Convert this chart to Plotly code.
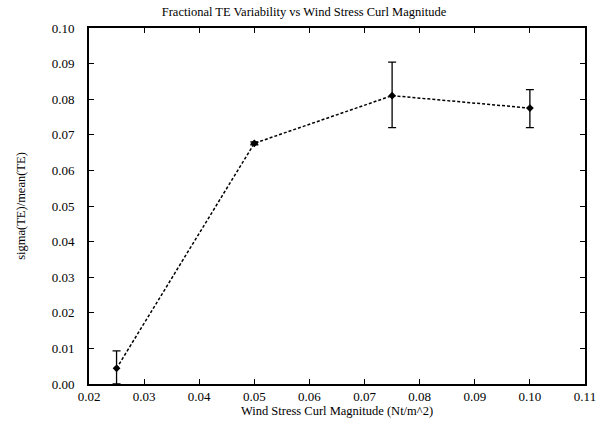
import plotly.graph_objects as go

x_vals = [0.025, 0.05, 0.075, 0.10]
y_vals = [0.0044, 0.0676, 0.0810, 0.0775]
err_plus = [0.0049, 0.0004, 0.0094, 0.0052]
err_minus = [0.0044, 0.0004, 0.0090, 0.0055]

x_ticks = [0.02, 0.03, 0.04, 0.05, 0.06, 0.07, 0.08, 0.09, 0.10, 0.11]
y_ticks = [0.00, 0.01, 0.02, 0.03, 0.04, 0.05, 0.06, 0.07, 0.08, 0.09, 0.10]

font = "Liberation Serif"

fig = go.Figure()
fig.add_trace(go.Scatter(
    x=x_vals, y=y_vals, mode="lines+markers",
    line=dict(color="black", width=1.5, dash="3px,2px"),
    marker=dict(symbol="diamond", size=6, color="black"),
    error_y=dict(type="data", symmetric=False, array=err_plus, arrayminus=err_minus,
                 color="black", thickness=1.3, width=4),
    showlegend=False,
))

axis_common = dict(
    showgrid=False, zeroline=False, showline=True, linecolor="black", linewidth=1.6,
    mirror="ticks", ticks="inside", ticklen=5, tickcolor="black", tickwidth=1.2,
    tickfont=dict(family=font, size=13, color="black"),
)

fig.update_layout(
    width=608, height=425,
    margin=dict(l=89, r=14, t=28, b=33),
    paper_bgcolor="white", plot_bgcolor="white",
    font=dict(family=font, color="black"),
    title=dict(text="Fractional TE Variability vs Wind Stress Curl Magnitude",
               x=0.5, xanchor="center", y=0.972, yanchor="middle",
               font=dict(family=font, size=12.5, color="black")),
    xaxis=dict(range=[0.02, 0.11], tickvals=x_ticks,
               ticktext=[f"{v:.2f}" for v in x_ticks],
               ticklabelstandoff=0,
               title=dict(text="Wind Stress Curl Magnitude (Nt/m^2)", standoff=0,
                          font=dict(family=font, size=12.5, color="black")),
               **axis_common),
    yaxis=dict(range=[0.0, 0.10], tickvals=y_ticks,
               ticktext=[f"{v:.2f}" for v in y_ticks],
               ticklabelstandoff=10,
               title=dict(text="sigma(TE)/mean(TE)", standoff=23,
                          font=dict(family=font, size=12.5, color="black")),
               **axis_common),
)

fig.write_html("out.html")
